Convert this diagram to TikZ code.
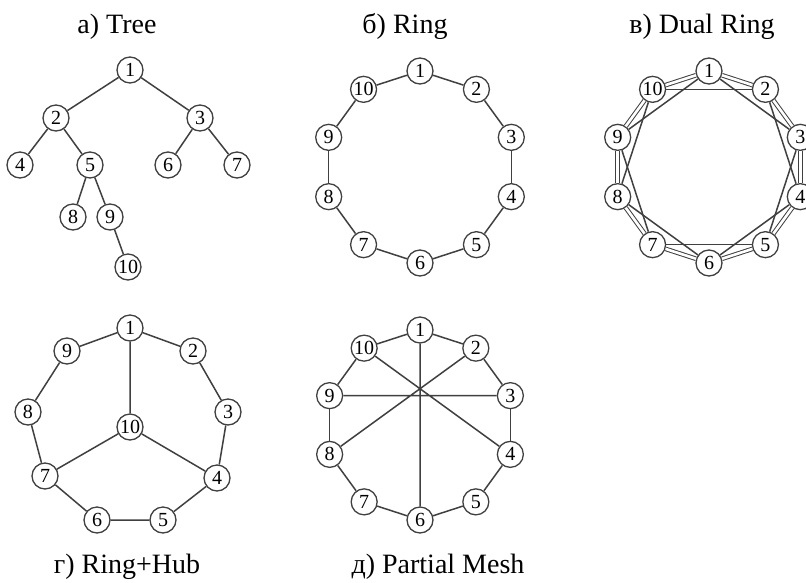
\documentclass[tikz,border=0pt]{standalone}
\usepackage{fontspec}
\setmainfont{Liberation Serif}
\tikzset{
  nd/.style={circle, draw=black!75, line width=1.3pt, fill=white, minimum size=26pt, inner sep=0pt, font=\fontsize{20}{20}\selectfont},
  ln/.style={draw=black!75, line width=1.5pt},
  dbl/.style={draw=black!75, double=white, double distance=2.6pt, line width=1pt},
  ttl/.style={anchor=base, inner sep=0pt, font=\fontsize{28}{28}\selectfont}
}
\begin{document}
\begin{tikzpicture}[x=1pt,y=-1pt]
\useasboundingbox[fill=white] (0,0) rectangle (806,582);
% titles
\node[ttl] (ta) at (117,33) {а) Tree};
\node[ttl] (tb) at (405,33) {б) Ring};
\node[ttl] (tc) at (702,33) {в) Dual Ring};
\node[ttl] (td) at (127,573) {г) Ring+Hub};
\node[ttl] (te) at (438,573) {д) Partial Mesh};
% a) Tree
\node[nd] (t1) at (130,70) {1};
\node[nd] (t2) at (56,118) {2};
\node[nd] (t3) at (200,118) {3};
\node[nd] (t4) at (20,165) {4};
\node[nd] (t5) at (90,165) {5};
\node[nd] (t6) at (168,165) {6};
\node[nd] (t7) at (237,165) {7};
\node[nd] (t8) at (73,217) {8};
\node[nd] (t9) at (110,217) {9};
\node[nd] (t10) at (128,267) {10};
\draw[ln] (t1)--(t2) (t1)--(t3) (t2)--(t4) (t2)--(t5) (t3)--(t6) (t3)--(t7) (t5)--(t8) (t5)--(t9) (t9)--(t10);
% b) Ring
\begin{scope}[shift={(420,167)}]
\foreach \k in {1,...,10} \node[nd] (r\k) at ({-90+36*(\k-1)}:96) {\k};
\end{scope}
\foreach \k [evaluate=\k as \n using {int(mod(\k,10)+1)}] in {1,...,10} \draw[ln] (r\k)--(r\n);
% c) Dual Ring
\begin{scope}[shift={(709,167)}]
\foreach \k in {1,...,10} \node[nd] (d\k) at ({-90+36*(\k-1)}:96) {\k};
\end{scope}
\foreach \k [evaluate=\k as \n using {int(mod(\k,10)+1)}] in {1,...,10} \draw[dbl] (d\k)--(d\n);
\foreach \k [evaluate=\k as \n using {int(mod(\k+1,10)+1)}] in {1,...,10} \draw[ln] (d\k)--(d\n);
% d) Ring+Hub
\node[nd] (h1) at (130,328) {1};
\node[nd] (h2) at (193,351) {2};
\node[nd] (h3) at (228,412) {3};
\node[nd] (h4) at (217,478) {4};
\node[nd] (h5) at (163,520) {5};
\node[nd] (h6) at (97,520) {6};
\node[nd] (h7) at (45,476) {7};
\node[nd] (h8) at (28,412) {8};
\node[nd] (h9) at (67,351) {9};
\node[nd] (h10) at (130,427) {10};
\draw[ln] (h1)--(h2) (h2)--(h3) (h3)--(h4) (h4)--(h5) (h5)--(h6) (h6)--(h7) (h7)--(h8) (h8)--(h9) (h9)--(h1);
\draw[ln] (h10)--(h1) (h10)--(h4) (h10)--(h7);
% e) Partial Mesh
\begin{scope}[shift={(420,425)}]
\foreach \k in {1,...,10} \node[nd] (m\k) at ({-90+36*(\k-1)}:95) {\k};
\end{scope}
\foreach \k [evaluate=\k as \n using {int(mod(\k,10)+1)}] in {1,...,10} \draw[ln] (m\k)--(m\n);
\draw[ln] (m1)--(m6) (m9)--(m3) (m10)--(m4) (m2)--(m8);
\end{tikzpicture}
\end{document}
